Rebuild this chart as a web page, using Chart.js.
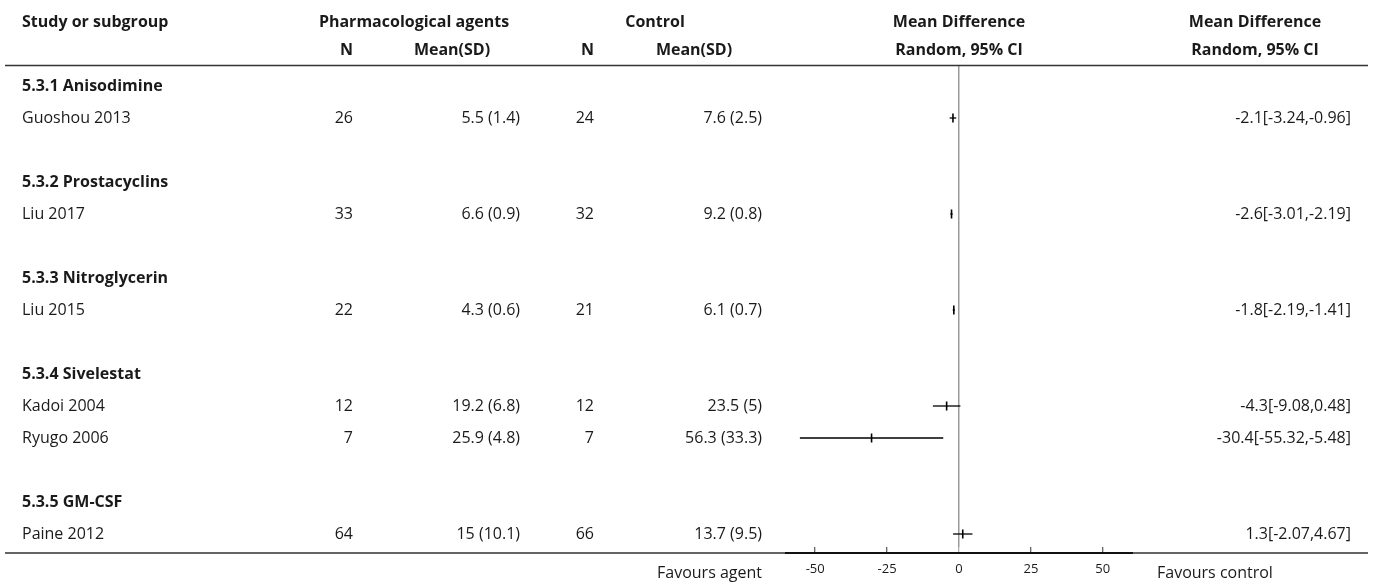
<!DOCTYPE html>
<html>
<head>
<meta charset="utf-8">
<script src="https://cdn.jsdelivr.net/npm/chart.js@4.4.0/dist/chart.umd.min.js"></script>
<style>
  html, body { margin: 0; padding: 0; background: #fff; }
  #wrap { width: 1375px; height: 585px; }
</style>
</head>
<body>
<div id="wrap"><canvas id="forest" width="1375" height="585"></canvas></div>
<script>
// Subgroups and the studies that belong to them
const subgroups = ['5.3.1 Anisodimine', '5.3.2 Prostacyclins', '5.3.3 Nitroglycerin', '5.3.4 Sivelestat', '5.3.5 GM-CSF'];
const studies = ['Guoshou 2013', 'Liu 2017', 'Liu 2015', 'Kadoi 2004', 'Ryugo 2006', 'Paine 2012'];
const studyGroup = [0, 1, 2, 3, 3, 4];

// Pharmacological agents arm
const agentN = [26, 33, 22, 12, 7, 64];
const agentMean = [5.5, 6.6, 4.3, 19.2, 25.9, 15];
const agentSD = [1.4, 0.9, 0.6, 6.8, 4.8, 10.1];

// Control arm
const controlN = [24, 32, 21, 12, 7, 66];
const controlMean = [7.6, 9.2, 6.1, 23.5, 56.3, 13.7];
const controlSD = [2.5, 0.8, 0.7, 5, 33.3, 9.5];

// Mean difference, random effects, 95% CI
const meanDiff = [-2.1, -2.6, -1.8, -4.3, -30.4, 1.3];
const ciLow = [-3.24, -3.01, -2.19, -9.08, -55.32, -2.07];
const ciHigh = [-0.96, -2.19, -1.41, 0.48, -5.48, 4.67];

// Axis ticks
const xTicks = [-50, -25, 0, 25, 50];

// Row layout: subgroup heading, its studies, then an empty row
const rows = [];
const studyRow = [];
subgroups.forEach((g, gi) => {
  if (gi > 0) rows.push({ kind: 'blank' });
  rows.push({ kind: 'head', text: g });
  studies.forEach((s, si) => {
    if (studyGroup[si] === gi) {
      studyRow[si] = rows.length;
      rows.push({ kind: 'study', idx: si });
    }
  });
});

const FONT = '"Open Sans", "Noto Sans", sans-serif';
const TEXT = '#1a1a1a';

const fmtMeanSD = (m, sd) => `${m} (${sd})`;
const fmtCI = (k) => `${meanDiff[k]}[${ciLow[k]},${ciHigh[k]}]`;

// Table columns drawn around the plot
const tablePlugin = {
  id: 'forestTable',
  afterDraw(chart) {
    const ctx = chart.ctx;
    const ys = chart.scales.y;
    const xs = chart.scales.x;
    const area = chart.chartArea;
    ctx.save();
    ctx.fillStyle = TEXT;
    ctx.textBaseline = 'middle';

    const put = (txt, x, y, align, bold) => {
      ctx.font = `${bold ? '700 ' : ''}16px ${FONT}`;
      ctx.textAlign = align;
      ctx.fillText(txt, x, y);
    };

    // Header rows
    const h1 = 22, h2 = 50;
    put('Study or subgroup', 22, h1, 'left', true);
    put('Pharmacological agents', 414, h1, 'center', true);
    put('Control', 655, h1, 'center', true);
    put('Mean Difference', 959, h1, 'center', true);
    put('Mean Difference', 1255, h1, 'center', true);
    put('N', 353, h2, 'right', true);
    put('Mean(SD)', 452, h2, 'center', true);
    put('N', 594, h2, 'right', true);
    put('Mean(SD)', 694, h2, 'center', true);
    put('Random, 95% CI', 959, h2, 'center', true);
    put('Random, 95% CI', 1255, h2, 'center', true);

    // Body rows
    rows.forEach((r, ri) => {
      const y = ys.getPixelForValue(ri);
      if (r.kind === 'head') {
        put(r.text, 22, y, 'left', true);
      } else if (r.kind === 'study') {
        const k = r.idx;
        put(studies[k], 22, y, 'left', false);
        put(String(agentN[k]), 353, y, 'right', false);
        put(fmtMeanSD(agentMean[k], agentSD[k]), 520, y, 'right', false);
        put(String(controlN[k]), 594, y, 'right', false);
        put(fmtMeanSD(controlMean[k], controlSD[k]), 762, y, 'right', false);
        put(fmtCI(k), 1351, y, 'right', false);
      }
    });

    // Rules above and below the body
    const baseY = area.bottom + 6;
    ctx.strokeStyle = '#333';
    ctx.lineWidth = 1.5;
    ctx.beginPath();
    ctx.moveTo(5, 65.5); ctx.lineTo(1368, 65.5);
    ctx.moveTo(5, baseY); ctx.lineTo(1368, baseY);
    ctx.stroke();
    // Axis baseline across the plot width
    ctx.strokeStyle = '#111';
    ctx.lineWidth = 2;
    ctx.beginPath();
    ctx.moveTo(xs.left, baseY); ctx.lineTo(xs.right, baseY);
    ctx.stroke();

    // Direction labels under the axis
    put('Favours agent', 762, 573, 'right', false);
    put('Favours control', 1157, 573, 'left', false);
    ctx.restore();
  }
};

const ciSets = studies.map((s, k) => ({
  label: s,
  data: [{ x: ciLow[k], y: studyRow[k] }, { x: ciHigh[k], y: studyRow[k] }],
  showLine: true,
  borderColor: '#000',
  borderWidth: 1.3,
  pointRadius: 0,
  pointHoverRadius: 0
}));

const pointSet = {
  label: 'Mean difference',
  data: meanDiff.map((m, k) => ({ x: m, y: studyRow[k] })),
  pointStyle: 'line',
  rotation: 90,
  pointRadius: 4.5,
  pointBorderWidth: 1.6,
  borderColor: '#000',
  backgroundColor: '#000'
};

new Chart(document.getElementById('forest'), {
  type: 'scatter',
  data: { datasets: [...ciSets, pointSet] },
  options: {
    responsive: false,
    devicePixelRatio: 1,
    animation: false,
    layout: { padding: { left: 785, right: 242, top: 66, bottom: 0 } },
    plugins: { legend: { display: false }, tooltip: { enabled: false } },
    scales: {
      x: {
        type: 'linear',
        min: -60.5,
        max: 60.5,
        afterBuildTicks: (scale) => { scale.ticks = xTicks.map(v => ({ value: v })); },
        afterFit: (scale) => { scale.height = 38; },
        border: { display: false },
        grid: {
          drawOnChartArea: true,
          drawTicks: true,
          tickLength: 6,
          lineWidth: 1.5,
          color: (c) => (c.tick && c.tick.value === 0 ? '#9a9a9a' : 'rgba(0,0,0,0)'),
          tickColor: (c) => (c.tick && c.tick.value === 0 ? '#9a9a9a' : '#333'),
          tickWidth: 1
        },
        ticks: {
          padding: 8,
          color: TEXT,
          font: { family: FONT, size: 13 },
          maxRotation: 0
        }
      },
      y: {
        type: 'linear',
        display: false,
        reverse: true,
        min: -0.625,
        max: 14.40625
      }
    }
  },
  plugins: [tablePlugin]
});
</script>
</body>
</html>
